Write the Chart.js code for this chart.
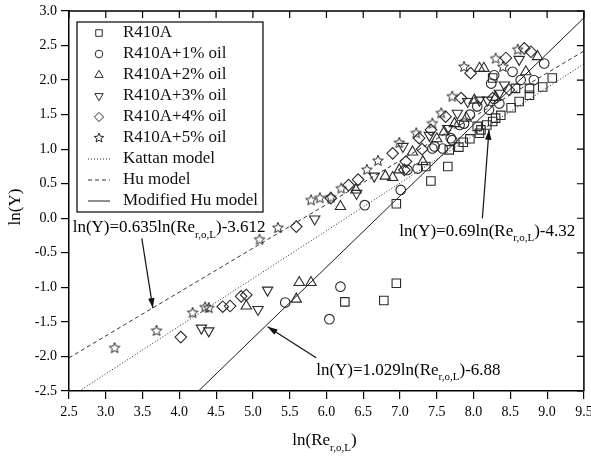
<!DOCTYPE html>
<html><head><meta charset="utf-8">
<script src="https://cdn.jsdelivr.net/npm/chart.js@4.4.1/dist/chart.umd.min.js"></script>
<style>html,body{margin:0;padding:0;background:#fff;overflow:hidden}</style>
</head><body>
<canvas id="c" width="591" height="457"></canvas>
<script>
// ---- tick labels ----
const xTicks = [2.5,3.0,3.5,4.0,4.5,5.0,5.5,6.0,6.5,7.0,7.5,8.0,8.5,9.0,9.5];
const yTicks = [-2.5,-2.0,-1.5,-1.0,-0.5,0.0,0.5,1.0,1.5,2.0,2.5,3.0];

// ---- series names ----
const seriesNames = ['R410A','R410A+1% oil','R410A+2% oil','R410A+3% oil','R410A+4% oil','R410A+5% oil'];
const modelNames = ['Kattan model','Hu model','Modified Hu model'];

// ---- measured points [ln(Re), ln(Y)] ----
const r410a = [[6.25,-1.21],[6.78,-1.19],[6.95,-0.94],[6.95,0.21],[7.35,0.75],[7.42,0.54],[7.65,0.75],[7.67,0.99],[7.80,1.03],[7.86,1.10],[8.05,1.33],[8.08,1.23],[8.10,1.28],[8.26,1.40],[8.30,1.45],[8.37,1.49],[8.51,1.60],[8.57,1.88],[8.62,1.69],[8.76,1.78],[8.76,1.88],[8.94,1.90],[9.07,2.03],[8.26,2.03],[7.95,1.15],[8.18,1.35]];
const oil1 = [[5.44,-1.22],[6.04,-1.46],[6.19,-0.99],[6.52,0.19],[7.01,0.41],[7.10,0.70],[7.24,0.72],[7.44,1.01],[7.47,1.04],[7.58,1.01],[7.69,1.16],[7.71,1.13],[7.81,1.35],[7.87,1.37],[8.21,1.57],[8.35,1.66],[8.24,1.95],[8.28,2.07],[8.53,2.12],[8.64,2.00],[8.82,2.00],[8.96,2.24],[7.95,1.50],[8.05,1.62]];
const oil2 = [[4.91,-1.27],[5.59,-1.17],[5.63,-0.93],[5.79,-0.93],[6.19,0.17],[6.40,0.41],[6.80,0.61],[6.90,0.59],[6.99,0.70],[7.17,0.96],[7.31,0.82],[7.60,1.25],[7.74,1.37],[7.90,1.45],[8.01,1.71],[8.08,2.17],[8.14,2.17],[8.71,2.12],[8.87,2.34],[7.50,1.15],[8.30,1.75]];
const oil3 = [[4.30,-1.59],[4.40,-1.63],[5.07,-1.32],[5.20,-1.04],[5.84,-0.01],[6.41,0.36],[6.65,0.61],[7.04,1.04],[7.78,1.52],[7.92,1.69],[8.08,1.71],[8.19,1.71],[8.35,1.81],[8.42,1.93],[8.62,2.30],[7.40,1.20],[7.65,1.30]];
const oil4 = [[4.02,-1.72],[4.59,-1.28],[4.69,-1.27],[4.84,-1.13],[4.91,-1.11],[5.59,-0.12],[6.06,0.29],[6.30,0.48],[6.43,0.56],[6.90,0.94],[7.06,0.70],[7.08,0.82],[7.26,1.16],[7.42,1.28],[7.62,1.47],[7.83,1.74],[7.96,2.10],[8.26,1.74],[8.44,2.32],[8.48,1.86],[8.69,2.46],[8.78,2.41],[7.30,1.00]];
const oil5 = [[3.12,-1.88],[3.69,-1.63],[4.18,-1.37],[4.35,-1.29],[4.40,-1.30],[5.09,-0.31],[5.34,-0.14],[5.79,0.26],[5.91,0.29],[6.06,0.30],[6.20,0.43],[6.70,0.83],[6.99,1.09],[7.22,1.23],[7.44,1.37],[7.56,1.52],[7.71,1.76],[7.87,2.19],[8.30,2.31],[8.40,2.19],[8.60,2.44],[6.55,0.70]];

// ---- model lines (end points) ----
const kattanLine = [[2.64,-2.5],[9.5,2.235]];
const huLine = [[2.5,-2.02],[9.5,2.42]];
const modHuLine = [[4.26,-2.5],[9.5,2.90]];

// ---- equation annotations: text parts, text anchor, arrow start, arrow tip ----
const eqTexts = [
  ['ln(Y)=0.635ln(Re','r,o,L',')-3.612'],
  ['ln(Y)=0.69ln(Re','r,o,L',')-4.32'],
  ['ln(Y)=1.029ln(Re','r,o,L',')-6.88']
];
const eqAnchors = [[2.55,-0.14],[6.99,-0.19],[5.86,-2.20]];
const eqArrowFrom = [[3.49,-0.29],[8.12,0.0],[5.86,-2.02]];
const eqArrowTo = [[3.64,-1.30],[8.21,1.28],[5.20,-1.57]];

const SERIF = '"Liberation Serif", "Times New Roman", serif';
const INK = '#2a2a2a';

function starCanvas(R, r){
  const s = Math.ceil(R*2+4);
  const c = document.createElement('canvas'); c.width = s; c.height = s;
  const g = c.getContext('2d');
  g.strokeStyle = '#262626'; g.lineWidth = 1; g.lineJoin = 'miter';
  g.beginPath();
  for(let i=0;i<10;i++){
    const a = -Math.PI/2 + i*Math.PI/5;
    const rr = i%2 ? r : R;
    g.lineTo(s/2 + rr*Math.cos(a), s/2 + rr*Math.sin(a));
  }
  g.closePath(); g.stroke();
  return c;
}
const starBig = starCanvas(5.6,2.5);
const starSmall = starCanvas(5,2.2);

const toXY = a => a.map(p => ({x:p[0], y:p[1]}));

const pointSets = [
  {data:r410a, style:'rect', r:6, rot:0},
  {data:oil1, style:'circle', r:4.8, rot:0},
  {data:oil2, style:'triangle', r:6, rot:0},
  {data:oil3, style:'triangle', r:6, rot:180},
  {data:oil4, style:'rectRot', r:5.8, rot:0},
  {data:oil5, style:starBig, r:6, rot:0}
];
const legendStyles = ['rect','circle','triangle','triangle','rectRot',starSmall];
const legendRot = [0,0,0,180,0,0];
const legendR = [4.6,3.8,4.8,4.8,4.6,5];

const lineSets = [
  {data:kattanLine, dash:[1,2], color:'#222', w:1},
  {data:huLine, dash:[4,3], color:'#333', w:1},
  {data:modHuLine, dash:[], color:'#1a1a1a', w:1}
];

const datasets = [];
pointSets.forEach((s,i) => datasets.push({
  type:'scatter', label:seriesNames[i], data:toXY(s.data),
  pointStyle:s.style, pointRadius:s.r, pointRotation:s.rot,
  borderColor:INK, backgroundColor:'rgba(0,0,0,0)', pointBorderWidth:1.1, showLine:false
}));
lineSets.forEach((s,i) => datasets.push({
  type:'line', label:modelNames[i], data:toXY(s.data),
  borderColor:s.color, borderWidth:s.w, borderDash:s.dash, pointRadius:0, fill:false, tension:0
}));

function drawEq(ctx, parts, x, y, size){
  ctx.save();
  ctx.fillStyle = '#000'; ctx.textBaseline = 'middle'; ctx.textAlign = 'left';
  ctx.font = size + 'px ' + SERIF;
  ctx.fillText(parts[0], x, y);
  let cx = x + ctx.measureText(parts[0]).width;
  const sub = Math.round(size*0.62);
  ctx.font = sub + 'px ' + SERIF;
  ctx.fillText(parts[1], cx, y + size*0.42);
  cx += ctx.measureText(parts[1]).width;
  ctx.font = size + 'px ' + SERIF;
  ctx.fillText(parts[2], cx, y);
  ctx.restore();
}

function arrow(ctx, x1, y1, x2, y2){
  ctx.save();
  ctx.strokeStyle = '#111'; ctx.fillStyle = '#111'; ctx.lineWidth = 1.2;
  ctx.beginPath(); ctx.moveTo(x1,y1); ctx.lineTo(x2,y2); ctx.stroke();
  const a = Math.atan2(y2-y1, x2-x1), L = 10, W = 3.2;
  ctx.beginPath();
  ctx.moveTo(x2,y2);
  ctx.lineTo(x2 - L*Math.cos(a) + W*Math.sin(a), y2 - L*Math.sin(a) - W*Math.cos(a));
  ctx.lineTo(x2 - L*Math.cos(a) - W*Math.sin(a), y2 - L*Math.sin(a) + W*Math.cos(a));
  ctx.closePath(); ctx.fill();
  ctx.restore();
}

const decor = {
  id:'decor',
  afterDatasetsDraw(chart){
    const ctx = chart.ctx, a = chart.chartArea, xs = chart.scales.x, ys = chart.scales.y;
    // top and right frame with inward ticks
    ctx.save();
    ctx.strokeStyle = '#000'; ctx.lineWidth = 1.5;
    ctx.beginPath();
    ctx.moveTo(a.left, a.top); ctx.lineTo(a.right, a.top); ctx.lineTo(a.right, a.bottom);
    ctx.stroke();
    ctx.lineWidth = 1.2;
    ctx.beginPath();
    xTicks.forEach(v => { const px = xs.getPixelForValue(v); ctx.moveTo(px, a.top); ctx.lineTo(px, a.top+7); });
    yTicks.forEach(v => { const py = ys.getPixelForValue(v); ctx.moveTo(a.right, py); ctx.lineTo(a.right-7, py); });
    ctx.stroke();
    ctx.restore();
    // equations and arrows
    eqTexts.forEach((t,i) => {
      drawEq(ctx, t, xs.getPixelForValue(eqAnchors[i][0]), ys.getPixelForValue(eqAnchors[i][1]), 17);
      arrow(ctx, xs.getPixelForValue(eqArrowFrom[i][0]), ys.getPixelForValue(eqArrowFrom[i][1]),
                 xs.getPixelForValue(eqArrowTo[i][0]), ys.getPixelForValue(eqArrowTo[i][1]));
    });
    // axis titles
    ctx.save();
    ctx.fillStyle = '#000'; ctx.textBaseline = 'middle';
    const midX = (a.left + a.right)/2;
    const p0 = 'ln(Re', p1 = 'r,o,L', p2 = ')';
    ctx.font = '17px ' + SERIF; const w0 = ctx.measureText(p0).width, w2 = ctx.measureText(p2).width;
    ctx.font = '11px ' + SERIF; const w1 = ctx.measureText(p1).width;
    let sx = midX - (w0+w1+w2)/2 - 2;
    const ty = 441;
    ctx.font = '17px ' + SERIF; ctx.textAlign = 'left'; ctx.fillText(p0, sx, ty);
    ctx.font = '11px ' + SERIF; ctx.fillText(p1, sx + w0, ty + 7);
    ctx.font = '17px ' + SERIF; ctx.fillText(p2, sx + w0 + w1, ty);
    ctx.translate(16, (a.top + a.bottom)/2 + 6);
    ctx.rotate(-Math.PI/2);
    ctx.textAlign = 'center';
    ctx.fillText('ln(Y)', 0, 0);
    ctx.restore();
  },
  afterDraw(chart){
    const ctx = chart.ctx;
    // legend box
    const bx = 77, by = 22, bw = 186, bh = 190, rowH = 21, y0 = 33, mx = 99, tx = 123;
    ctx.save();
    ctx.fillStyle = '#fff'; ctx.fillRect(bx, by, bw, bh);
    ctx.strokeStyle = '#000'; ctx.lineWidth = 1.2; ctx.strokeRect(bx, by, bw, bh);
    ctx.font = '17px ' + SERIF; ctx.textBaseline = 'middle'; ctx.textAlign = 'left';
    seriesNames.forEach((n,i) => {
      const y = y0 + i*rowH;
      ctx.save();
      ctx.strokeStyle = INK; ctx.fillStyle = 'rgba(0,0,0,0)'; ctx.lineWidth = 1;
      Chart.helpers.drawPoint(ctx, {pointStyle:legendStyles[i], radius:legendR[i], rotation:legendRot[i], borderWidth:1}, mx, y);
      ctx.restore();
      ctx.fillStyle = '#111';
      ctx.fillText(n, tx, y);
    });
    modelNames.forEach((n,i) => {
      const y = y0 + (i+6)*rowH;
      ctx.save();
      ctx.strokeStyle = lineSets[i].color; ctx.lineWidth = 1; ctx.setLineDash(lineSets[i].dash);
      ctx.beginPath(); ctx.moveTo(mx-11, y); ctx.lineTo(mx+11, y); ctx.stroke();
      ctx.restore();
      ctx.fillStyle = '#111';
      ctx.fillText(n, tx, y);
    });
    ctx.restore();
  }
};

const tickFont = {family: SERIF, size: 14};
new Chart(document.getElementById('c'), {
  type:'scatter',
  data:{datasets},
  options:{
    responsive:false, animation:false, devicePixelRatio:1,
    layout:{padding:{left:0, right:6, top:11, bottom:0}},
    plugins:{legend:{display:false}, tooltip:{enabled:false}},
    scales:{
      x:{type:'linear', min:2.5, max:9.5,
        afterBuildTicks: s => { s.ticks = xTicks.map(v => ({value:v})); },
        ticks:{autoSkip:false, maxRotation:0, minRotation:0, padding:5, color:'#000', font:tickFont, callback: v => Number(v).toFixed(1)},
        grid:{drawOnChartArea:false, drawTicks:true, tickLength:8, color:'#000', lineWidth:1.2},
        border:{display:true, color:'#000', width:1.5},
        afterFit: s => { s.height = 66; s.paddingLeft = 0; s.paddingRight = 0; }
      },
      y:{type:'linear', min:-2.5, max:3.0,
        afterBuildTicks: s => { s.ticks = yTicks.map(v => ({value:v})); },
        ticks:{autoSkip:false, padding:4, color:'#000', font:tickFont, callback: v => Number(v).toFixed(1)},
        grid:{drawOnChartArea:false, drawTicks:true, tickLength:8, color:'#000', lineWidth:1.2},
        border:{display:true, color:'#000', width:1.5},
        afterFit: s => { s.width = 69; s.paddingTop = 0; s.paddingBottom = 0; }
      }
    }
  },
  plugins:[decor]
});
</script>
</body></html>
